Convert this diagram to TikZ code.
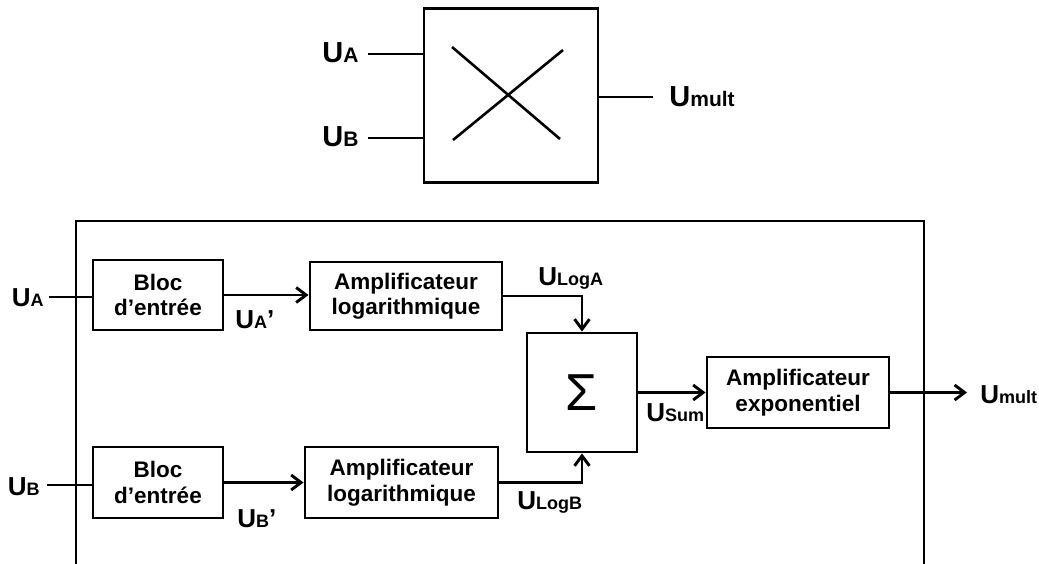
\documentclass[tikz,border=0pt]{standalone}
\usepackage{fontspec}
\setmainfont{Liberation Sans}
\usetikzlibrary{arrows.meta}
\newcommand\UL[2][]{{\fontsize{26}{28}\selectfont U}{\fontsize{18}{20}\selectfont #2}{\fontsize{26}{28}\selectfont #1}}
\newcommand\ULT[1]{{\fontsize{29}{30}\selectfont U}{\fontsize{21}{22}\selectfont #1}}
\begin{document}
\begin{tikzpicture}[x=1pt,y=-1pt,line width=2.9pt,
  blk/.style={draw,line width=2.9pt,inner sep=0pt,align=center,font=\bfseries\fontsize{22.5}{25.5}\selectfont},
  lbl/.style={inner sep=0pt,font=\bfseries},
  arr/.style={-{Straight Barb[length=10pt,width=15pt]}}]
\useasboundingbox (0,0) rectangle (1039,564);
% top multiplier symbol
\node[blk,minimum width=174,minimum height=174] (mul) at (511,95.5) {};
\draw[line width=2.6pt] (452,47) -- (560,139);
\draw[line width=2.6pt] (453,140) -- (563,50);
\node[lbl,anchor=east] (tua) at (360,53) {\ULT{A}};
\node[lbl,anchor=east] (tub) at (360,137) {\ULT{B}};
\node[lbl,anchor=west] (tum) at (668,97) {\ULT{mult}};
\coordinate (ta) at (368,54);
\coordinate (tb) at (368,138);
\coordinate (tm) at (653,97);
\draw (ta) -- (ta -| mul.west);
\draw (tb) -- (tb -| mul.west);
\draw (mul.east |- tm) -- (tm);
% frame
\draw (76,564) |- (924,221) -- (924,564);
% blocks
\node[blk,minimum width=130,minimum height=70] (ba) at (158,295) {Bloc\\d’entrée};
\node[blk,minimum width=130,minimum height=71] (bb) at (158,482.5) {Bloc\\d’entrée};
\node[blk,minimum width=192,minimum height=68] (la) at (406,296) {Amplificateur\\logarithmique};
\node[blk,minimum width=193,minimum height=71] (lb) at (401.5,482.5) {Amplificateur\\logarithmique};
\node[blk,minimum width=110,minimum height=119] (sg) at (582,392.5) {\mdseries\fontsize{52}{52}\selectfont Σ};
\node[blk,minimum width=182,minimum height=71] (ex) at (798,392.5) {Amplificateur\\exponentiel};
% inputs
\node[lbl,anchor=east] (bua) at (45,298) {\UL{A}};
\node[lbl,anchor=east] (bub) at (41,487) {\UL{B}};
\coordinate (cua) at (49,297);
\coordinate (cub) at (47,485);
\draw (cua) -- (cua -| ba.west);
\draw (cub) -- (cub -| bb.west);
% connectors
\draw[arr] (ba.east) -- (ba.east -| la.west);
\draw[arr] (bb.east) -- (bb.east -| lb.west);
\draw[arr] (la.east) -| (sg.north);
\draw[arr] (lb.east) -| (sg.south);
\draw[arr] (sg.east) -- (ex.west);
\coordinate (out) at (967,392.5);
\draw[arr] (ex.east) -- (out);
% labels
\node[lbl,anchor=west] (lap) at (234,320) {\UL[’]{A}};
\node[lbl,anchor=west] (lbp) at (236,519) {\UL[’]{B}};
\node[lbl,anchor=west] (lla) at (537,278) {\UL{LogA}};
\node[lbl,anchor=west] (llb) at (516,502) {\UL{LogB}};
\node[lbl,anchor=west] (lsum) at (645,413) {\UL{Sum}};
\node[lbl,anchor=west] (lmul) at (979,395) {\UL{mult}};
\end{tikzpicture}
\end{document}
